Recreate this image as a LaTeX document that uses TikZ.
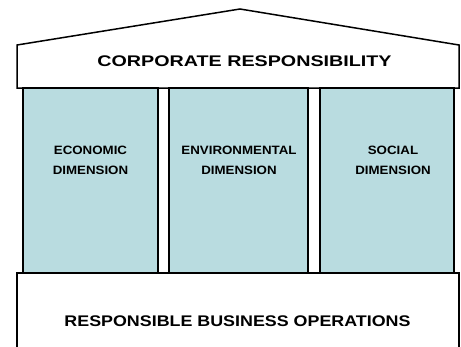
\documentclass[tikz,border=0pt]{standalone}
\usepackage{fontspec}
\setmainfont{Liberation Sans}
\definecolor{pillarblue}{RGB}{185,220,224}
\tikzset{
 pillar/.style={draw,line width=1.5pt,fill=pillarblue,minimum width=135pt,minimum height=185pt,inner sep=0pt},
 pillartext/.style={font=\bfseries\fontsize{12.1}{20}\selectfont,align=center,xscale=1.1,transform shape},
 headtext/.style={font=\bfseries\fontsize{15.4}{18}\selectfont,transform shape}
}
\begin{document}
\begin{tikzpicture}[x=1pt,y=-1pt]
 \useasboundingbox (0,0) rectangle (461,346);
 \clip (0,0) rectangle (461,346);
 % roof
 \draw[line width=1.5pt,fill=white](17,88)--(17,45)--(240,9)--(459,45)--(459,88)--cycle;
 \node[headtext,xscale=1.28] (roof) at (244.5,61) {CORPORATE RESPONSIBILITY};
 % pillars
 \node[pillar] (economic) at (90.5,180.5) {};
 \node[pillar,minimum width=139pt] (environmental) at (238.5,180.5) {};
 \node[pillar,minimum width=134pt] (social) at (387,180.5) {};
 \node[pillartext] (economictext) at (90.5,160) {ECONOMIC\\DIMENSION};
 \node[pillartext] (environmentaltext) at (239,160) {ENVIRONMENTAL\\DIMENSION};
 \node[pillartext] (socialtext) at (393,160) {SOCIAL\\DIMENSION};
 % base
 \draw[line width=1.5pt,fill=white](17,273) rectangle (459,360);
 \node[headtext,xscale=1.16] (base) at (237.5,321) {RESPONSIBLE BUSINESS OPERATIONS};
\end{tikzpicture}
\end{document}
